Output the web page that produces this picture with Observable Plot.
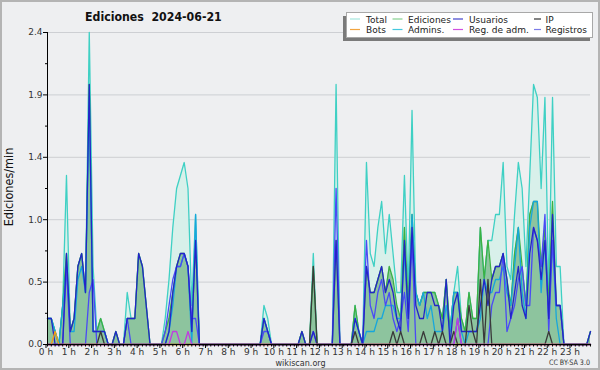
<!DOCTYPE html>
<html><head><meta charset="utf-8">
<script src="https://cdn.jsdelivr.net/npm/d3@7"></script>
<script src="https://cdn.jsdelivr.net/npm/@observablehq/plot@0.6"></script>
<style>
html,body{margin:0;padding:0;background:#fff}
#wrap{position:relative;width:600px;height:370px;background:#eeeff1;overflow:hidden;
 font-family:"DejaVu Sans",sans-serif}
#wrap svg{position:absolute;left:0;top:0}
</style></head><body><div id="wrap"></div>
<script>
// 10-minute samples, 144 per day (rate in edits/min)
const total = [
 0.2,0.2,0.1,0,0.3,1.3,   0.1,0.2,0.6,0.7,0.4,2.4,   0.6,0.1,0.2,0.1,0,0,
 0.1,0,0,0.4,0.2,0.2,     0.7,0.6,0.3,0,0,0,         0,0.2,0.5,0.9,1.2,1.3,
 1.4,1.2,0.3,1.0,0,0,     0,0,0,0,0,0,               0,0,0,0,0,0,
 0,0,0,0.3,0.2,0,         0,0,0,0,0,0,               0,0.1,0,0,0.7,0,
 0,0,0,0,2.0,0,           0,0,0,0.3,0.1,0,           1.4,0.7,0.6,0.9,1.1,0.7,
 1.0,0.7,0.4,0.4,1.3,0.4, 1.8,0.4,0.3,0.4,0.4,0.4,   0.4,0.3,0.2,0.5,0.1,0.4,
 0.6,0.2,0.1,0.4,0.2,0.2, 0.9,0.5,0.8,0.8,1.0,1.0,   1.4,0.6,0.5,1.0,1.4,1.2,
 0.6,1.3,2.0,1.9,1.2,1.9, 0.4,1.9,0.6,0.6,0,0,       0,0,0,0,0,0.1
];
const ediciones = [
 0.2,0.2,0.1,0,0.3,0.7,   0.1,0.2,0.6,0.7,0.4,2.0,   0.1,0.1,0.2,0.1,0,0,
 0.1,0,0,0.2,0.2,0.2,     0.7,0.6,0.3,0,0,0,         0,0.1,0.2,0.4,0.6,0.7,
 0.7,0.6,0.1,0.8,0,0,     0,0,0,0,0,0,               0,0,0,0,0,0,
 0,0,0,0.2,0.1,0,         0,0,0,0,0,0,               0,0.1,0,0,0.6,0,
 0,0,0,0,0.8,0,           0,0,0,0.3,0.1,0,           0.6,0.4,0.4,0.5,0.6,0.4,
 0.6,0.5,0.3,0.2,0.9,0.3, 1.0,0.4,0.3,0.4,0.4,0.4,   0.4,0.3,0.2,0.5,0.1,0.4,
 0.4,0.2,0.1,0.4,0.2,0.2, 0.9,0.5,0.8,0.5,0.6,0.6,   0.7,0.5,0.3,0.7,0.9,0.6,
 0.3,1.0,1.1,1.1,0.6,0.9, 0.3,1.1,0.3,0.3,0,0,       0,0,0,0,0,0.1
];
const usuarios = [
 0.2,0.2,0,0,0,0.7,       0.1,0.2,0.6,0.7,0.4,2.0,   0.1,0.1,0.1,0.1,0,0,
 0.1,0,0,0.2,0.2,0.2,     0.7,0.6,0.3,0,0,0,         0,0,0.1,0.4,0.6,0.7,
 0.7,0.6,0.1,0.8,0,0,     0,0,0,0,0,0,               0,0,0,0,0,0,
 0,0,0,0.2,0.1,0,         0,0,0,0,0,0,               0,0.1,0,0,0.1,0,
 0,0,0,0,0.8,0,           0,0,0,0.2,0.1,0,           0.6,0.4,0.4,0.5,0.6,0.4,
 0.5,0.4,0.2,0.1,0.8,0.2, 0.9,0.3,0.2,0.2,0.4,0.4,   0.3,0.3,0.1,0.5,0,0.3,
 0.4,0.1,0.1,0.1,0.1,0.1, 0.3,0.5,0.3,0.5,0.6,0.6,   0.7,0.5,0.2,0.4,0.6,0.3,
 0.2,0.7,0.9,0.8,0.5,0.8, 0.2,1.0,0.3,0.3,0,0,       0,0,0,0,0,0.1
];
const ip = [
 0,0,0,0,0,0,             0,0,0,0,0,0,               0,0,0.1,0,0,0,
 0,0,0,0,0,0,             0,0,0,0,0,0,               0,0,0,0,0,0,
 0,0,0,0,0,0,             0,0,0,0,0,0,               0,0,0,0,0,0,
 0,0,0,0,0,0,             0,0,0,0,0,0,               0,0,0,0,0.6,0,
 0,0,0,0,0,0,             0,0,0,0.1,0,0,             0,0,0,0,0,0,
 0,0.1,0,0.1,0,0,         0,0,0,0.1,0,0,             0.1,0,0.1,0,0,0.1,
 0,0,0,0.3,0.1,0,         0.5,0,0.5,0,0,0,           0,0,0,0,0,0,
 0,0,0,0,0,0,             0.1,0,0,0,0,0,             0,0,0,0,0,0
];
const bots = [
 0,0,0.1,0,0,0,           0,0,0,0,0,0,               0,0,0,0,0,0,
 0,0,0,0,0,0,             0,0,0,0,0,0,               0,0,0,0,0,0,
 0,0,0,0,0,0,             0,0,0,0,0,0,               0,0,0,0,0,0,
 0,0,0,0,0,0,             0,0,0,0,0,0,               0,0,0,0,0,0,
 0,0,0,0,0,0,             0,0,0,0,0,0,               0,0,0,0,0,0,
 0,0,0,0,0,0,             0,0,0,0,0,0,               0,0,0,0,0,0,
 0,0,0,0,0,0,             0,0,0,0,0,0,               0,0,0,0,0,0,
 0,0,0,0,0,0,             0,0,0,0,0,0,               0,0,0,0,0,0
];
const admins = [
 0.2,0.2,0.1,0,0.3,0.6,   0.1,0.1,0.5,0.6,0.4,1.9,   0.1,0.1,0.1,0.1,0,0,
 0,0,0,0,0,0,             0,0,0,0,0,0,               0,0,0.1,0.3,0.6,0.6,
 0.7,0.6,0,1.0,0,0,       0,0,0,0,0,0,               0,0,0,0,0,0,
 0,0,0,0.2,0.1,0,         0,0,0,0,0,0,               0,0,0,0,0,0,
 0,0,0,0,0,0,             0,0,0,0.2,0.1,0,           0.1,0.1,0.1,0.2,0.2,0.3,
 0.3,0.3,0.2,0.2,0.7,0.2, 1.0,0.4,0.3,0.4,0.2,0.3,   0.1,0.1,0.1,0.3,0.1,0.4,
 0.4,0.1,0,0.1,0.1,0.1,   0.2,0.5,0.4,0.4,0.5,0.5,   0.6,0.4,0.3,0.6,0.9,0.4,
 0.2,0.9,1.1,1.1,0.4,0.8, 0.2,0.8,0.2,0,0,0,         0,0,0,0,0,0
];
const regAdm = [
 0,0,0,0,0,0,             0,0,0,0,0,0,               0,0,0,0,0,0,
 0,0,0,0,0,0,             0,0,0,0,0,0,               0,0,0,0.1,0.1,0,
 0,0.1,0,0,0,0,           0,0,0,0,0,0,               0,0,0,0,0,0,
 0,0,0,0,0,0,             0,0,0,0,0,0,               0,0,0,0,0,0,
 0,0,0,0,0,0,             0,0,0,0,0,0,               0,0,0,0,0,0,
 0,0,0,0,0,0,             0,0,0,0,0,0,               0,0,0,0,0,0,
 0.2,0,0,0,0,0,           0,0,0,0,0,0,               0,0,0,0,0,0,
 0,0,0,0,0,0,             0,0,0,0,0,0,               0,0,0,0,0,0
];
const registros = [
 0,0,0,0,0,0.6,           0,0,0,0,0,0.4,             0.5,0,0,0,0,0,
 0,0,0,0.2,0,0,           0,0,0,0,0,0,               0,0.1,0.3,0.5,0.6,0.6,
 0.7,0.6,0.2,0.2,0,0,     0,0,0,0,0,0,               0,0,0,0,0,0,
 0,0,0,0.1,0.1,0,         0,0,0,0,0,0,               0,0,0,0,0.1,0,
 0,0,0,0,1.2,0,           0,0,0,0,0,0,               0.8,0.3,0.2,0.4,0.5,0.3,
 0.4,0.2,0.1,0.2,0.4,0.1, 0.8,0,0,0,0,0,             0,0,0,0,0,0,
 0.2,0,0,0,0,0,           0,0,0,0.3,0.4,0.4,         0.7,0.1,0.2,0.3,0.5,0.6,
 0.3,0.3,0.9,0.8,0.6,1.0, 0.1,0.8,0.3,0.3,0,0,       0,0,0,0,0,0
];

const hourLabels = ["0 h","1 h","2 h","3 h","4 h","5 h","6 h","7 h","8 h","9 h","10 h","11 h",
  "12 h","13 h","14 h","15 h","16 h","17 h","18 h","19 h","20 h","21 h","22 h","23 h"];
const yTicks = [0, 0.48, 0.96, 1.44, 1.92, 2.4];
const yMinor = [0.24, 0.72, 1.2, 1.68, 2.16];
const seriesNames = ["Total","Ediciones","Usuarios","IP","Bots","Admins.","Reg. de adm.","Registros"];
const lineColors = ["#3fd0c4","#3cb043","#2424c8","#3a3a3a","#f39c12","#17a6dc","#c03ce0","#4a4af5"];
const legendColors = ["#a6e6de","#86d090","#4444cc","#333333","#f2a540","#44c8de","#d050e0","#7c7ce8"];
const title = "Ediciones  2024-06-21";
const yLabel = "Ediciones/min";
const credit = "wikiscan.org";
const license = "CC BY-SA 3.0";

const step = 10;
const rows = total.map((v, i) => ({
  t: i * step, total: v, ediciones: ediciones[i], usuarios: usuarios[i], ip: ip[i],
  bots: bots[i], admins: admins[i], regAdm: regAdm[i], registros: registros[i]
}));
const keys = ["total","ediciones","usuarios","ip","bots","admins","regAdm","registros"];
const drawOrder = ["total","ediciones","admins","registros","usuarios","ip","bots","regAdm"];
const FONT = '"DejaVu Sans",sans-serif';

const chart = Plot.plot({
  width: 600, height: 370,
  marginTop: 32, marginBottom: 26, marginLeft: 47, marginRight: 10,
  x: {domain: [0, (total.length - 1) * step]},
  y: {domain: [0, 2.4]},
  style: {background: "transparent", fontFamily: FONT, fontSize: "9px", color: "#222"},
  marks: [
    Plot.ruleY(yTicks.slice(1), {stroke: "#cdcfd3", strokeWidth: 1}),
    Plot.areaY(rows, {x: "t", y: "total", fill: "#d8f0ea"}),
    Plot.areaY(rows, {x: "t", y: "ediciones", fill: "#419852", fillOpacity: 0.5}),
    ...drawOrder.map(k => Plot.lineY(rows, {x: "t", y: k, stroke: lineColors[keys.indexOf(k)], strokeWidth: 1.3})),
    Plot.ruleY([0], {stroke: "#000"}),
    Plot.ruleX([0], {stroke: "#000"}),
    Plot.axisY({ticks: yTicks, tickFormat: d => d.toFixed(1), tickSize: 4, tickPadding: 1, label: null, stroke: "#000", fill: "#333", fontSize: 9}),
    Plot.axisY({ticks: yMinor, tickFormat: () => "", tickSize: 2, label: null, stroke: "#000"}),
    Plot.axisX({ticks: hourLabels.map((_, h) => h * 60), tickFormat: d => hourLabels[d / 60], tickSize: 4, tickPadding: 0, label: null, stroke: "#000", fill: "#333", fontSize: 9, dx: -1.5}),
    Plot.axisX({ticks: rows.map(r => r.t), tickFormat: () => "", tickSize: 2.5, label: null, stroke: "#000"})
  ]
});
document.getElementById("wrap").appendChild(chart);

// overlay: frame, title, y label, legend, credits (text horizontally condensed)
const svg = d3.select("#wrap").append("svg").attr("width", 600).attr("height", 370)
  .style("font-family", FONT);
function ctext(x, y, s, size, opts = {}) {
  const sx = opts.sx ?? 0.88;
  const rot = opts.rot ? ` rotate(${opts.rot})` : "";
  return svg.append("text")
    .attr("transform", `translate(${x},${y})${rot} scale(${sx},1)`)
    .attr("text-anchor", opts.anchor || "start")
    .attr("font-size", size).attr("font-weight", opts.weight || "normal")
    .attr("fill", opts.fill || "#222").style("white-space", "pre").text(s);
}
svg.append("rect").attr("x", 1).attr("y", 1).attr("width", 598).attr("height", 368)
  .attr("fill", "none").attr("stroke", "#b4b4b4").attr("stroke-width", 2);
ctext(85, 20.5, title, 12.5, {weight: "bold", fill: "#111"});
ctext(13, 187, yLabel, 12, {rot: -90, anchor: "middle", sx: 0.94, fill: "#111"});
ctext(300.5, 365.5, credit, 9.5, {anchor: "middle", sx: 0.85, fill: "#333"});
ctext(590, 365, license, 7.5, {anchor: "end", sx: 0.85, fill: "#333"});

svg.append("rect").attr("x", 343).attr("y", 16).attr("width", 247).attr("height", 25).attr("fill", "#7a7a7a");
svg.append("rect").attr("x", 346.5).attr("y", 12.5).attr("width", 246).attr("height", 25)
  .attr("fill", "#fff").attr("stroke", "#a8a8a8");
const colX = [350, 392.5, 453, 534];
const textX = [366, 408, 469, 545.5];
const rowY = [19, 29.5];
const rowBase = [22.5, 33.4];
seriesNames.forEach((name, i) => {
  const c = i % 4, r = Math.floor(i / 4);
  const len = c === 3 ? 7 : 10;
  svg.append("line").attr("x1", colX[c]).attr("x2", colX[c] + len).attr("y1", rowY[r]).attr("y2", rowY[r])
    .attr("stroke", legendColors[i]).attr("stroke-width", 1.2);
  ctext(textX[c], rowBase[r], name, 9.5, {sx: 0.95, fill: "#222"});
});
</script></body></html>
